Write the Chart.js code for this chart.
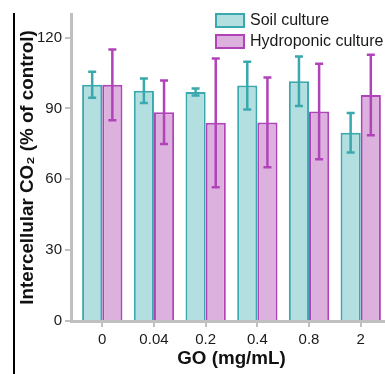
<!DOCTYPE html>
<html>
<head>
<meta charset="utf-8">
<script src="https://cdn.jsdelivr.net/npm/chart.js@4"></script>
<style>
html,body{margin:0;padding:0;overflow:hidden;background:#fff;}
#wrap{position:absolute;left:0;top:0;width:400px;height:374px;}
</style>
</head>
<body>
<div id="wrap"><canvas id="c" width="400" height="374"></canvas></div>
<script>
const categories = ["0", "0.04", "0.2", "0.4", "0.8", "2"];
const soilValues = [100, 97.5, 97, 99.7, 101.5, 79.7];
const soilErrors = [5.5, 5.2, 1.5, 10.1, 10.5, 8.4];
const hydroValues = [100, 88.4, 83.9, 84.1, 88.7, 95.7];
const hydroErrors = [15, 13.4, 27.3, 19, 20.2, 17];
const yTicks = [0, 30, 60, 90, 120];
const seriesNames = ["Soil culture", "Hydroponic culture"];

const soilFill = "#b3dfe1", soilLine = "#3aa9ae";
const hydroFill = "#dcb1de", hydroLine = "#b143b9";
const axisGray = "#c0c0c0";

const errorBars = {
  id: "errorBars",
  afterDatasetsDraw(chart) {
    const ctx = chart.ctx;
    const y = chart.scales.y;
    const errs = [soilErrors, hydroErrors];
    const cols = [soilLine, hydroLine];
    chart.data.datasets.forEach((ds, di) => {
      const meta = chart.getDatasetMeta(di);
      meta.data.forEach((bar, i) => {
        const v = ds.data[i].y, e = errs[di][i];
        const yt = y.getPixelForValue(v + e), yb = y.getPixelForValue(v - e);
        ctx.save();
        ctx.strokeStyle = cols[di];
        ctx.lineWidth = 2.5;
        ctx.beginPath();
        ctx.moveTo(bar.x, yt); ctx.lineTo(bar.x, yb);
        ctx.moveTo(bar.x - 4, yt); ctx.lineTo(bar.x + 4, yt);
        ctx.moveTo(bar.x - 4, yb); ctx.lineTo(bar.x + 4, yb);
        ctx.stroke();
        ctx.restore();
      });
    });
  }
};

const legendAndFrame = {
  id: "legendAndFrame",
  afterDraw(chart) {
    const ctx = chart.ctx;
    ctx.save();
    ctx.strokeStyle = "#000";
    ctx.lineWidth = 2;
    ctx.beginPath();
    ctx.moveTo(14, 13); ctx.lineTo(14, 374);
    ctx.stroke();
    const items = [
      {name: seriesNames[0], fill: soilFill, line: soilLine, y: 14},
      {name: seriesNames[1], fill: hydroFill, line: hydroLine, y: 35}
    ];
    ctx.font = "16px 'Liberation Sans', Arial, sans-serif";
    ctx.textBaseline = "middle";
    items.forEach(it => {
      ctx.fillStyle = it.fill;
      ctx.fillRect(216, it.y, 28, 13);
      ctx.strokeStyle = it.line;
      ctx.lineWidth = 2;
      ctx.strokeRect(216, it.y, 28, 13);
      ctx.fillStyle = "#1a1a1a";
      ctx.fillText(it.name, 250, it.y + 7);
    });
    ctx.restore();
  }
};

new Chart(document.getElementById("c"), {
  type: "bar",
  data: {
    datasets: [
      {
        label: seriesNames[0],
        data: soilValues.map((v, i) => ({x: i, y: v})),
        backgroundColor: soilFill, borderColor: soilLine, borderWidth: 2,
        categoryPercentage: 0.78, barPercentage: 1
      },
      {
        label: seriesNames[1],
        data: hydroValues.map((v, i) => ({x: i, y: v})),
        backgroundColor: hydroFill, borderColor: hydroLine, borderWidth: 2,
        categoryPercentage: 0.78, barPercentage: 1
      }
    ]
  },
  options: {
    responsive: false,
    animation: false,
    events: [],
    layout: {padding: {top: 14, right: 8, left: 0, bottom: 0}},
    plugins: {legend: {display: false}, tooltip: {enabled: false}},
    scales: {
      x: {
        type: "linear",
        min: -0.605, max: 5.605,
        offset: false,
        afterBuildTicks: s => { s.ticks = categories.map((_, i) => ({value: i})); },
        afterFit: s => { s.height = 53; },
        border: {display: true, color: axisGray, width: 3},
        grid: {offset: false, drawOnChartArea: false, drawTicks: true, tickLength: 6, color: axisGray, lineWidth: 2},
        ticks: {
          callback: v => categories[v],
          font: {family: "'Liberation Sans', Arial, sans-serif", size: 15},
          color: "#1a1a1a", padding: 4, maxRotation: 0, autoSkip: false
        },
        title: {
          display: true, text: "GO (mg/mL)",
          font: {family: "'Liberation Sans', Arial, sans-serif", size: 18.8, weight: "bold"},
          color: "#111", padding: {top: 0, bottom: 4}
        }
      },
      y: {
        min: 0, max: 130,
        afterBuildTicks: s => { s.ticks = yTicks.map(v => ({value: v})); },
        afterFit: s => { s.width = 71; },
        border: {display: true, color: axisGray, width: 3},
        grid: {drawOnChartArea: false, drawTicks: true, tickLength: 6, color: axisGray, lineWidth: 2},
        ticks: {
          font: {family: "'Liberation Sans', Arial, sans-serif", size: 15},
          color: "#1a1a1a", padding: 3
        },
        title: {
          display: true, text: "Intercellular CO\u2082 (% of control)",
          font: {family: "'Liberation Sans', Arial, sans-serif", size: 18.8, weight: "bold"},
          color: "#111", padding: {top: 17, bottom: 0}
        }
      }
    }
  },
  plugins: [errorBars, legendAndFrame]
});
</script>
</body>
</html>
